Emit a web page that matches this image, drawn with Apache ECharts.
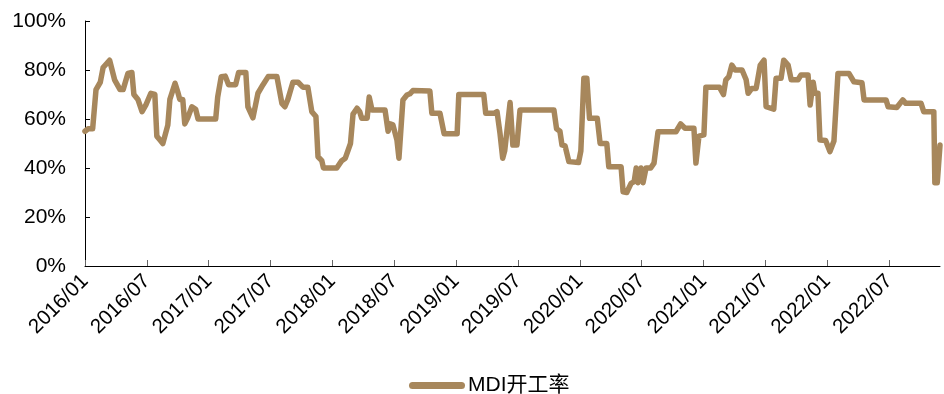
<!DOCTYPE html>
<html>
<head>
<meta charset="utf-8">
<style>
  html, body { margin: 0; padding: 0; background: #fff; }
  #chart { width: 944px; height: 394px; }
</style>
<script src="https://cdn.jsdelivr.net/npm/echarts@6/dist/echarts.min.js"></script>
</head>
<body>
<div id="chart"></div>
<script>
// MDI operating rate (%), sampled at turning points
const seriesName = 'MDI开工率';
const dates = [
  '2016-01-01','2016-01-10','2016-01-24','2016-02-03','2016-02-15','2016-02-23','2016-03-13','2016-03-28',
  '2016-04-13','2016-04-22','2016-05-06','2016-05-18','2016-05-24','2016-06-05','2016-06-17','2016-06-29',
  '2016-07-13','2016-07-25','2016-07-31','2016-08-09','2016-08-18','2016-09-02','2016-09-08','2016-09-23',
  '2016-10-01','2016-10-07','2016-10-16','2016-10-22','2016-10-31','2016-11-12','2016-11-23','2016-11-30',
  '2017-01-22','2017-01-28','2017-02-07','2017-02-18','2017-02-27','2017-03-20','2017-03-29','2017-04-19',
  '2017-04-25','2017-05-10','2017-05-25','2017-06-09','2017-06-24','2017-07-20','2017-08-04','2017-08-13',
  '2017-08-22','2017-09-06','2017-09-21','2017-10-05','2017-10-20','2017-11-01','2017-11-13','2017-11-19',
  '2017-11-30','2017-12-05','2018-01-14','2018-01-29','2018-02-08','2018-02-22','2018-03-01','2018-03-13',
  '2018-03-21','2018-03-27','2018-04-12','2018-04-18','2018-04-26','2018-06-04','2018-06-13','2018-06-19',
  '2018-06-27','2018-07-09','2018-07-15','2018-07-21','2018-07-27','2018-08-08','2018-08-17','2018-08-26',
  '2018-10-15','2018-10-21','2018-11-14','2018-11-26','2019-01-04','2019-01-09','2019-03-22','2019-03-28',
  '2019-04-21','2019-04-30','2019-05-09','2019-05-17','2019-05-23','2019-06-08','2019-06-16','2019-06-28',
  '2019-07-07','2019-10-16','2019-10-24','2019-11-03','2019-11-09','2019-11-18','2019-11-29','2019-12-28',
  '2020-01-04','2020-01-13','2020-01-22','2020-01-30','2020-02-21','2020-02-29','2020-03-20','2020-03-26',
  '2020-05-01','2020-05-07','2020-05-18','2020-05-31','2020-06-09','2020-06-15','2020-06-20','2020-06-29',
  '2020-07-05','2020-07-14','2020-07-28','2020-08-07','2020-08-19','2020-10-11','2020-10-25','2020-11-07',
  '2020-12-03','2020-12-09','2020-12-18','2021-01-02','2021-01-08','2021-02-16','2021-02-27','2021-03-06',
  '2021-03-15','2021-03-24','2021-04-03','2021-04-23','2021-05-05','2021-05-11','2021-05-22','2021-06-04',
  '2021-06-16','2021-06-27','2021-07-03','2021-07-26','2021-08-02','2021-08-17','2021-08-25','2021-09-07',
  '2021-09-16','2021-10-06','2021-10-15','2021-11-05','2021-11-11','2021-11-20','2021-11-25','2021-12-04',
  '2021-12-10','2021-12-27','2022-01-09','2022-01-21','2022-01-27','2022-02-02','2022-03-04','2022-03-19',
  '2022-04-12','2022-04-18','2022-06-22','2022-06-28','2022-07-24','2022-07-30','2022-08-11','2022-08-20',
  '2022-10-04','2022-10-12','2022-11-11','2022-11-14','2022-11-21','2022-11-29'
];
const rates = [
  55, 56, 56, 72, 75, 81, 84, 76,
  72, 72, 78.6, 79, 70, 68, 63, 66,
  70.5, 70, 53, 51.5, 50, 57.5, 68, 74.6,
  71, 68, 68, 58, 60.5, 65, 64, 60,
  60, 69, 77.3, 77.5, 74, 74, 79, 79,
  65, 60.5, 70.5, 74, 77.3, 77.3, 66.4, 65,
  68, 75, 75, 73, 73, 63, 61, 44.6,
  43, 40, 40, 43, 44, 50, 62, 64.4,
  63, 60.3, 60.3, 69, 63.7, 63.7, 55, 58,
  57.6, 51.4, 44, 44.5, 67.8, 69.8, 70.3, 71.6,
  71.4, 62.3, 62.3, 54, 54, 70, 70, 62.3,
  62.3, 63, 54, 44, 47, 66.7, 49.4, 49.4,
  63.7, 63.7, 56, 55, 49.4, 49, 42.6, 42.2,
  47, 76.6, 76.6, 60.3, 60.3, 50, 50, 40.5,
  40.5, 30.3, 30, 33.7, 34.4, 40, 34, 40,
  34, 40, 40, 42, 54.8, 54.8, 58, 56.2,
  56.2, 42, 53, 53.5, 73, 73, 70, 76,
  77.3, 82, 80, 80, 76, 70.5, 72.5, 72.5,
  82, 84, 65, 64, 76.6, 76.6, 84, 82,
  76, 76, 78, 78, 65.7, 75, 70.5, 70.5,
  51.4, 51.2, 46.7, 51, 51.4, 78.6, 78.6, 75.2,
  74.8, 67.8, 67.8, 65, 64.7, 64, 67.8, 66.4,
  66.4, 63, 63, 34, 34, 49.4
];
// half-year tick labels along the time axis
const tickLabels = [
  '2016/01','2016/07','2017/01','2017/07','2018/01','2018/07','2019/01',
  '2019/07','2020/01','2020/07','2021/01','2021/07','2022/01','2022/07'
];

// position on the x axis in months since 2016/01
function monthIndex(str) {
  const p = str.split(/[-\/]/).map(Number);
  const day = p.length > 2 ? p[2] : 1;
  const dim = new Date(p[0], p[1], 0).getDate();
  return (p[0] - 2016) * 12 + (p[1] - 1) + (day - 1) / dim;
}

const tickPos = tickLabels.map(monthIndex);
const labelAt = {};
tickLabels.forEach((t, i) => { labelAt[tickPos[i].toFixed(3)] = t; });
const points = dates.map((d, i) => [monthIndex(d), rates[i]]);
const xMax = points[points.length - 1][0];

const font = 'Liberation Sans, Arial, "Noto Sans CJK SC", sans-serif';
const lineColor = '#A7875C';
const chart = echarts.init(document.getElementById('chart'));
chart.setOption({
  animation: false,
  backgroundColor: '#fff',
  grid: { left: 85, right: 4, top: 21, bottom: 128, containLabel: false },
  legend: {
    left: 404, top: 370,
    itemWidth: 56, itemHeight: 7, itemGap: 10,
    icon: 'path://M3.5,0 L52.5,0 A3.5,3.5 0 0 1 52.5,7 L3.5,7 A3.5,3.5 0 0 1 3.5,0 Z',
    textStyle: { fontFamily: font, fontSize: 21, color: '#000', padding: [0, 0, 0, -2] },
    data: [seriesName]
  },
  xAxis: {
    type: 'value', min: 0, max: xMax,
    axisLine: { show: true, lineStyle: { color: '#000', width: 1 } },
    axisTick: { show: true, inside: true, length: 6, customValues: tickPos, lineStyle: { color: '#666' } },
    axisLabel: {
      customValues: tickPos, rotate: 45, margin: 12,
      fontFamily: font, fontSize: 20.5, color: '#000',
      formatter: v => labelAt[Number(v).toFixed(3)] || ''
    },
    splitLine: { show: false }
  },
  yAxis: {
    type: 'value', min: 0, max: 100, interval: 20,
    axisLine: { show: true, lineStyle: { color: '#000', width: 1 } },
    axisTick: { show: true, inside: true, length: 5, lineStyle: { color: '#000' } },
    axisLabel: { formatter: '{value}%', margin: 19, fontFamily: font, fontSize: 21, color: '#000' },
    splitLine: { show: false }
  },
  series: [{
    name: seriesName,
    type: 'line',
    data: points,
    showSymbol: false,
    symbol: 'none',
    color: lineColor,
    lineStyle: { width: 5.5, color: lineColor, join: 'round', cap: 'round' }
  }]
});
</script>
</body>
</html>
